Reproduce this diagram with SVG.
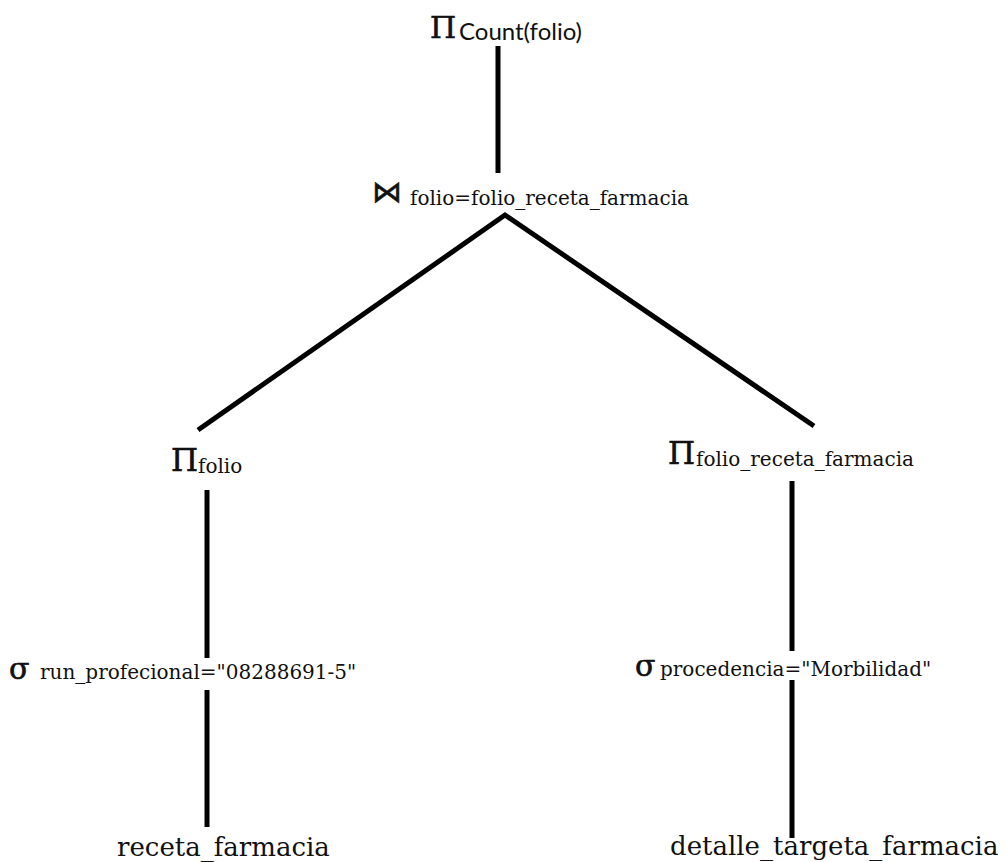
<svg xmlns="http://www.w3.org/2000/svg" width="1006" height="862" viewBox="0 0 1006 862">
  <style>
    .edge { stroke: #000; stroke-width: 5; fill: none; }
    .op { font-family: "DejaVu Serif", "Liberation Serif", serif; fill: #111; stroke: #111; stroke-width: 0.6; }
    .sub { font-family: "DejaVu Serif", "Liberation Serif", serif; fill: #111; font-size: 20px; }
    .subs { font-family: Lato, "Open Sans", sans-serif; fill: #111; }
    .rel { font-family: "DejaVu Serif", "Liberation Serif", serif; fill: #111; font-size: 26px; }
  </style>
  <rect width="1006" height="862" fill="#fff"/>

  <!-- connectors of the query tree -->
  <g id="connectors">
    <line class="edge" x1="498" y1="46" x2="498" y2="173"/>
    <polyline class="edge" points="198,430 505,215 814,426" stroke-linejoin="miter"/>
    <line class="edge" x1="207" y1="490" x2="207" y2="658"/>
    <line class="edge" x1="207" y1="690" x2="207" y2="827"/>
    <line class="edge" x1="792" y1="481" x2="792" y2="651"/>
    <line class="edge" x1="792" y1="680" x2="792" y2="838"/>
  </g>

  <!-- projection: count -->
  <g id="proj-count">
    <text x="430" y="38" class="op" font-size="30">Π</text>
    <text x="459" y="40" class="subs" font-size="24">Count(folio)</text>
  </g>

  <!-- join -->
  <g id="join">
    <text x="372" y="202" class="op" font-size="30" stroke-width="1.4">⋈</text>
    <text x="410" y="205" class="sub" font-size="19.5">folio=folio_receta_farmacia</text>
  </g>

  <!-- left projection -->
  <g id="proj-folio">
    <text x="171" y="471" class="op" font-size="31">Π</text>
    <text x="198" y="473" class="sub">folio</text>
  </g>

  <!-- right projection -->
  <g id="proj-folio-receta">
    <text x="668" y="464" class="op" font-size="31">Π</text>
    <text x="696" y="466" class="sub">folio_receta_farmacia</text>
  </g>

  <!-- left selection -->
  <g id="sel-run">
    <text x="9" y="679" class="op" font-size="30" stroke-width="1.2">σ</text>
    <text x="40" y="679" class="sub" font-size="20.5">run_profecional="08288691-5"</text>
  </g>

  <!-- right selection -->
  <g id="sel-procedencia">
    <text x="635" y="676" class="op" font-size="30" stroke-width="1.2">σ</text>
    <text x="660" y="676" class="sub" font-size="20.3">procedencia="Morbilidad"</text>
  </g>

  <!-- base relations -->
  <g id="rel-receta">
    <text x="117" y="856" class="rel">receta_farmacia</text>
  </g>
  <g id="rel-detalle">
    <text x="670" y="855" class="rel">detalle_targeta_farmacia</text>
  </g>
</svg>
